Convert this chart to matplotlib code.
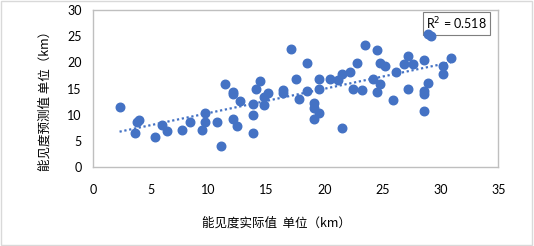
import numpy as np
import matplotlib.pyplot as plt
from matplotlib.patches import Rectangle

plt.rcParams['font.family'] = ['Lato', 'Noto Sans CJK SC', 'DejaVu Sans']

# actual visibility (km)
actual = [2.3, 3.6, 3.8, 4.0, 5.4, 6.0, 6.4, 7.7, 8.4, 9.4, 9.7, 9.7, 10.7, 11.1,
          11.4, 12.1, 12.1, 12.1, 12.4, 12.7, 13.8, 13.8, 13.8, 14.1, 14.4, 14.8,
          14.8, 15.1, 16.4, 16.4, 17.1, 17.5, 17.8, 18.5, 18.5, 19.1, 19.1, 19.5,
          19.1, 19.5, 19.5, 20.5, 21.2, 21.5, 21.5, 22.2, 22.5, 22.8, 23.2, 23.5,
          24.2, 24.5, 24.5, 24.8, 24.8, 25.2, 25.9, 26.2, 26.9, 27.2, 27.2, 27.6,
          28.6, 28.6, 28.6, 28.6, 28.9, 28.9, 29.2, 30.2, 30.2, 30.9]
# predicted visibility (km)
predicted = [11.5, 6.5, 8.7, 9.0, 5.7, 8.0, 6.9, 7.1, 8.7, 7.1, 10.4, 8.7, 8.7, 4.1,
             15.9, 14.3, 13.9, 9.1, 7.9, 12.6, 12.1, 9.9, 6.5, 15.0, 16.4, 13.3,
             11.8, 14.1, 14.7, 14.1, 22.6, 16.9, 13.0, 19.9, 14.6, 12.2, 11.2, 10.3,
             9.2, 16.8, 15.0, 16.9, 16.6, 17.8, 7.5, 18.2, 15.0, 19.9, 14.8, 23.3,
             16.8, 22.4, 14.3, 19.9, 15.9, 19.4, 12.9, 18.2, 19.6, 21.2, 15.0, 19.6,
             20.5, 14.6, 13.9, 10.8, 16.1, 25.4, 25.0, 19.4, 17.8, 20.8]

x_ticks = [0, 5, 10, 15, 20, 25, 30, 35]
y_ticks = [0, 5, 10, 15, 20, 25, 30]

fig = plt.figure(figsize=(5.34, 2.46), dpi=100)
fig.patches.append(Rectangle((0.002, 0.004), 0.994, 0.99, transform=fig.transFigure,
                             fill=False, edgecolor='#d9d9d9', linewidth=1))
ax = fig.add_axes([0.174, 0.321, 0.759, 0.638])

ax.scatter(actual, predicted, s=38, color='#4472C4', zorder=3)

# linear trendline
k, b = np.polyfit(actual, predicted, 1)
xs = np.array([min(actual), max(actual)])
ax.plot(xs, k * xs + b, linestyle=(0, (1, 1.2)), color='#4472C4', linewidth=1.6, zorder=2)

ax.text(0.973, 0.915, 'R$^2$ = 0.518', transform=ax.transAxes, ha='right', va='center',
        fontsize=9, zorder=1,
        bbox=dict(boxstyle='square,pad=0.25', facecolor='white', edgecolor='#7f7f7f', linewidth=0.8))

ax.set_xlim(0, 35)
ax.set_ylim(0, 30)
ax.set_xticks(x_ticks)
ax.set_yticks(y_ticks)
ax.tick_params(length=0, labelsize=9)
ax.tick_params(axis='x', pad=12)
ax.tick_params(axis='y', pad=8)
for s in ax.spines.values():
    s.set_color('#bfbfbf')
    s.set_linewidth(1)

fig.text(0.517, 0.093, '能见度实际值  单位（km）', ha='center', va='center', fontsize=9,
         family=['Noto Sans CJK SC', 'DejaVu Sans'])
fig.text(0.085, 0.6, '能见度预测值 单位（km）', ha='center', va='center', rotation=90, fontsize=9,
         family=['Noto Sans CJK SC', 'DejaVu Sans'])

fig.savefig('out.png', dpi=100)
